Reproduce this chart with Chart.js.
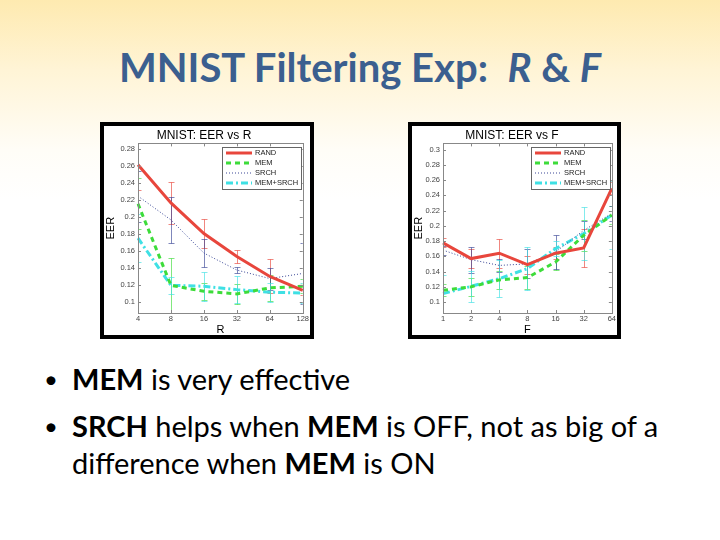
<!DOCTYPE html>
<html>
<head>
<meta charset="utf-8">
<script src="https://cdn.jsdelivr.net/npm/chart.js@4.4.1/dist/chart.umd.min.js"></script>
<style>
html, body { margin: 0; padding: 0; }
body {
    width: 720px; height: 540px; position: relative; overflow: hidden;
    background: linear-gradient(to bottom, #feeab0 0px, #fff4d6 70px, #fffdf7 150px, #ffffff 200px);
    font-family: Lato, "Open Sans", sans-serif;
}
#title {
    position: absolute; left: 0; width: 720px; top: 43px; margin: 0;
    text-align: center; font-size: 40px; line-height: 48px; font-weight: bold; color: #3b5f8f;
}
.box { position: absolute; border: 4px solid #000; background: #fff; }
.box canvas { display: block; }
.bullet { position: absolute; left: 44px; font-size: 29px; line-height: 37px; color: #000; }
.bullet .dot { position: absolute; left: 0; font-size: 24px; }
.bullet .txt { position: absolute; left: 28px; white-space: nowrap; }
</style>
</head>
<body>
<h1 id="title">MNIST Filtering Exp:&nbsp; <i>R</i> &amp; <i>F</i></h1>

<div class="box" style="left:100px; top:122px;"><canvas id="chartR" width="206" height="209"></canvas></div>
<div class="box" style="left:408px; top:122px;"><canvas id="chartF" width="205" height="209"></canvas></div>

<div class="bullet" style="top:360px;"><span class="dot">•</span><span class="txt"><b>MEM</b> is very effective</span></div>
<div class="bullet" style="top:407px;"><span class="dot">•</span><span class="txt"><b>SRCH</b> helps when <b>MEM</b> is OFF, not as big of a<br>difference when <b>MEM</b> is ON</span></div>

<script>
// left chart: EER vs R
const rLabels = ['4', '8', '16', '32', '64', '128'];
const rRand = [0.262, 0.217, 0.181, 0.154, 0.1305, 0.114];
const rMem = [0.216, 0.120, 0.113, 0.110, 0.117, 0.119];
const rSrch = [0.225, 0.197, 0.158, 0.138, 0.128, 0.134];
const rMemSrch = [0.1755, 0.120, 0.119, 0.115, 0.112, 0.111];
const rRandErr = [0.03, 0.025, 0.017, 0.008, 0.02, 0.005];
const rMemErr = [0.03, 0.032, 0.01, 0.012, 0.015, 0.008];
const rSrchErr = [0.03, 0.027, 0.016, 0.004, 0.013, 0.036];
const rMemSrchErr = [0.028, 0.01, 0.017, 0.016, 0.011, 0.012];
const rTicks = [0.1, 0.12, 0.14, 0.16, 0.18, 0.2, 0.22, 0.24, 0.26, 0.28];

// right chart: EER vs F
const fLabels = ['1', '2', '4', '8', '16', '32', '64'];
const fRand = [0.1775, 0.157, 0.164, 0.149, 0.164, 0.171, 0.249];
const fMem = [0.1153, 0.120, 0.129, 0.132, 0.1525, 0.1875, 0.214];
const fSrch = [0.168, 0.1556, 0.148, 0.150, 0.1656, 0.194, 0.216];
const fMemSrch = [0.111, 0.1206, 0.1306, 0.1438, 0.170, 0.1897, 0.214];
const fRandErr = [0.006, 0.012, 0.019, 0.012, 0.008, 0.025, 0.008];
const fMemErr = [0.008, 0.012, 0.012, 0.015, 0.01, 0.02, 0.012];
const fSrchErr = [0.006, 0.017, 0.008, 0.019, 0.022, 0.012, 0.01];
const fMemSrchErr = [0.025, 0.02, 0.024, 0.028, 0.01, 0.035, 0.045];
const fTicks = [0.1, 0.12, 0.14, 0.16, 0.18, 0.2, 0.22, 0.24, 0.26, 0.28, 0.3];

const seriesNames = ['RAND', 'MEM', 'SRCH', 'MEM+SRCH'];
const seriesColors = ['#e8463c', '#3ddc3a', '#3a4796', '#3fe0e4'];
const seriesWidths = [3, 3, 1, 3];
const seriesDash = [[], [5, 4], [1, 2], [7, 3, 2, 3]];

const axisFont = '"Liberation Sans", Arial, sans-serif';

// error bars, axes box and legend, drawn through the chart's own scales
const errorBarPlugin = {
    id: 'errorBars',
    beforeDatasetsDraw(chart) {
        const ctx = chart.ctx;
        const area = chart.chartArea;
        const xs = chart.scales.x;
        const ys = chart.scales.y;
        ctx.save();
        ctx.beginPath();
        ctx.rect(area.left, area.top, area.right - area.left, area.bottom - area.top);
        ctx.clip();
        ctx.globalAlpha = 0.65;
        chart.data.datasets.forEach(ds => {
            ctx.strokeStyle = ds.borderColor;
            ctx.lineWidth = 1;
            ds.data.forEach((v, j) => {
                const e = ds.errors[j];
                const x = Math.round(xs.getPixelForValue(j)) + 0.5;
                const y1 = Math.round(ys.getPixelForValue(v - e)) + 0.5;
                const y2 = Math.round(ys.getPixelForValue(v + e)) + 0.5;
                ctx.beginPath();
                ctx.moveTo(x, y1); ctx.lineTo(x, y2);
                ctx.moveTo(x - 3, y1); ctx.lineTo(x + 3, y1);
                ctx.moveTo(x - 3, y2); ctx.lineTo(x + 3, y2);
                ctx.stroke();
            });
        });
        ctx.restore();
    },
    afterDraw(chart) {
        const ctx = chart.ctx;
        const a = chart.chartArea;
        ctx.save();
        ctx.strokeStyle = '#888';
        ctx.lineWidth = 1;
        ctx.strokeRect(Math.round(a.left) + 0.5, Math.round(a.top) + 0.5,
            Math.round(a.right - a.left), Math.round(a.bottom - a.top));
        ctx.beginPath();
        chart.scales.y.ticks.forEach(t => {
            const y = Math.round(chart.scales.y.getPixelForValue(t.value)) + 0.5;
            ctx.moveTo(a.left, y); ctx.lineTo(a.left + 3, y);
            ctx.moveTo(a.right, y); ctx.lineTo(a.right - 3, y);
        });
        chart.scales.x.ticks.forEach((t, i) => {
            const x = Math.round(chart.scales.x.getPixelForValue(i)) + 0.5;
            ctx.moveTo(x, a.bottom); ctx.lineTo(x, a.bottom - 3);
            ctx.moveTo(x, a.top); ctx.lineTo(x, a.top + 3);
        });
        ctx.stroke();

        // legend inside the plot, top right
        const w = 79, h = 42;
        const left = Math.round(a.right - w - 2), top = Math.round(a.top + 4);
        ctx.fillStyle = '#fff';
        ctx.fillRect(left, top, w, h);
        ctx.strokeStyle = '#666';
        ctx.strokeRect(left + 0.5, top + 0.5, w, h);
        ctx.font = '7.5px ' + axisFont;
        ctx.textBaseline = 'middle';
        chart.data.datasets.forEach((ds, k) => {
            const y = top + 6 + k * 10;
            ctx.strokeStyle = ds.borderColor;
            ctx.lineWidth = ds.borderWidth;
            ctx.setLineDash(ds.borderDash);
            ctx.beginPath();
            ctx.moveTo(left + 4, y); ctx.lineTo(left + 30, y);
            ctx.stroke();
            ctx.setLineDash([]);
            ctx.fillStyle = '#222';
            ctx.fillText(ds.label, left + 33, y);
        });
        ctx.restore();
    }
};

function makeChart(id, labels, values, errors, ticks, yMin, yMax, titleText, xTitle, padRight, yWidth) {
    const datasets = values.map((vals, k) => ({
        label: seriesNames[k],
        data: vals,
        errors: errors[k],
        borderColor: seriesColors[k],
        borderWidth: seriesWidths[k],
        borderDash: seriesDash[k],
        pointRadius: 0,
        tension: 0,
        fill: false
    }));
    return new Chart(document.getElementById(id), {
        type: 'line',
        data: { labels: labels, datasets: datasets },
        plugins: [errorBarPlugin],
        options: {
            responsive: false,
            animation: false,
            devicePixelRatio: 1,
            layout: { padding: { left: 0, right: padRight, top: 0, bottom: 0 } },
            plugins: {
                legend: { display: false },
                tooltip: { enabled: false },
                title: {
                    display: true, text: titleText, color: '#000',
                    font: { family: axisFont, size: 12, weight: 'normal' },
                    padding: { top: 2, bottom: 1 }
                }
            },
            scales: {
                x: {
                    type: 'category',
                    offset: false,
                    grid: { display: false, drawTicks: false },
                    border: { display: false },
                    ticks: { color: '#444', font: { family: axisFont, size: 7.5 }, padding: 1, maxRotation: 0, autoSkip: false },
                    title: { display: true, text: xTitle, color: '#000', font: { family: axisFont, size: 11, lineHeight: 1 }, padding: { top: 0, bottom: 0 } },
                    afterFit: s => { s.height = 22; }
                },
                y: {
                    min: yMin, max: yMax,
                    grid: { display: false, drawTicks: false },
                    border: { display: false },
                    ticks: {
                        color: '#444', font: { family: axisFont, size: 7.5 }, padding: 3,
                        callback: v => String(+v.toFixed(2))
                    },
                    afterBuildTicks: s => { s.ticks = ticks.map(v => ({ value: v })); },
                    title: { display: true, text: 'EER', color: '#000', font: { family: axisFont, size: 11 }, padding: 0 },
                    afterFit: s => { s.width = yWidth; }
                }
            }
        }
    });
}

makeChart('chartR', rLabels, [rRand, rMem, rSrch, rMemSrch], [rRandErr, rMemErr, rSrchErr, rMemSrchErr],
    rTicks, 0.0875, 0.287, 'MNIST: EER vs R', 'R', 6, 34);
makeChart('chartF', fLabels, [fRand, fMem, fSrch, fMemSrch], [fRandErr, fMemErr, fSrchErr, fMemSrchErr],
    fTicks, 0.0856, 0.308, 'MNIST: EER vs F', 'F', 5, 31);
</script>
</body>
</html>
